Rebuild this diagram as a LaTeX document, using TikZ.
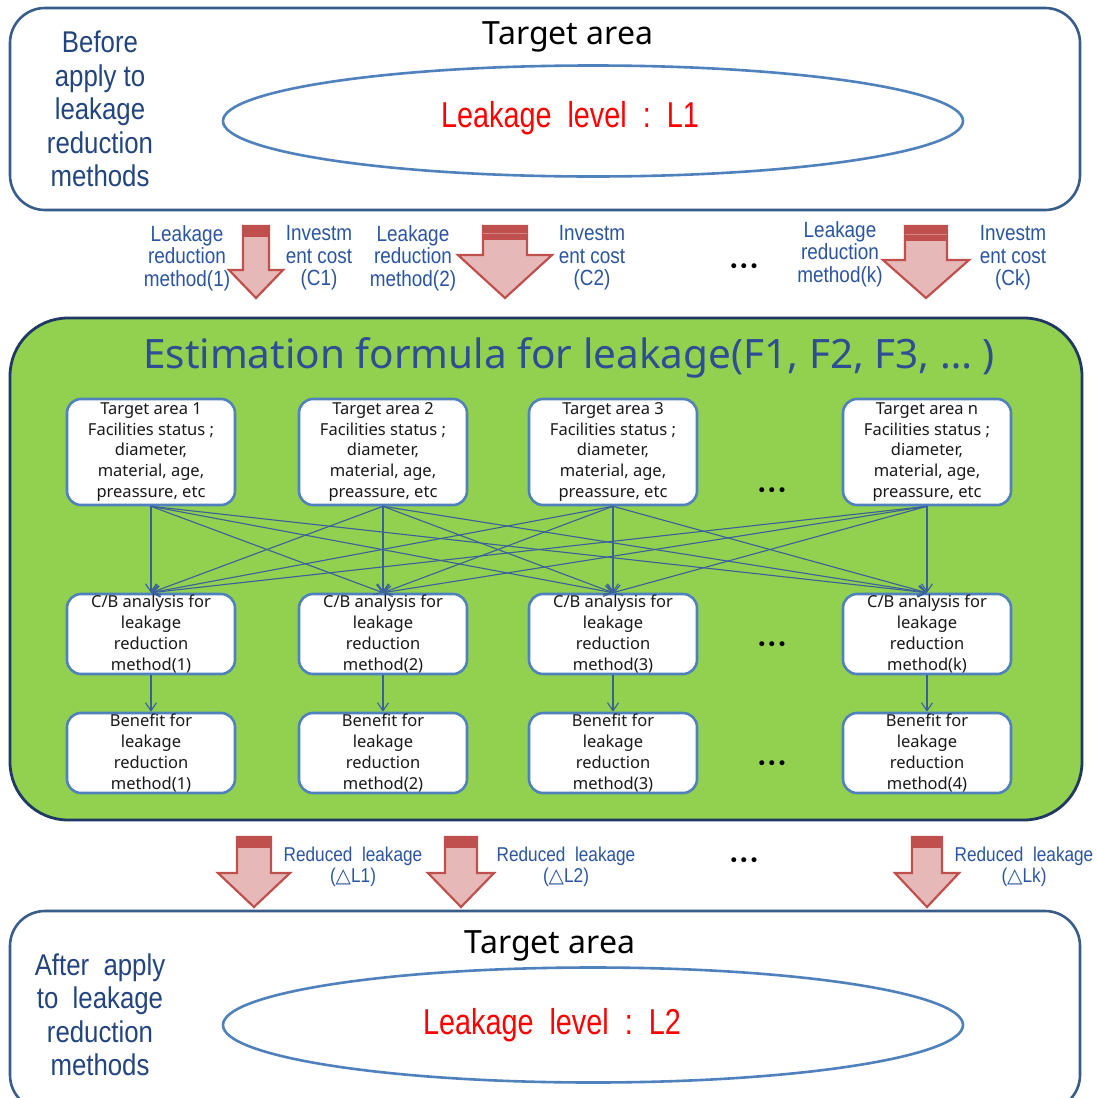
\documentclass[tikz,border=0pt]{standalone}
\usepackage{fontspec}
\usetikzlibrary{arrows.meta,shapes.geometric}
\setmainfont{Liberation Sans}
\newfontfamily\narrowfont[FakeStretch=0.86]{Liberation Sans}
\newfontfamily\levelfont[FakeStretch=0.8]{Liberation Sans}
\newfontfamily\boxfont{Noto Sans}
\newfontfamily\dejafont{DejaVu Sans}
\definecolor{outlineblue}{HTML}{385D8A}
\definecolor{ellblue}{HTML}{4F81BD}
\definecolor{leftblue}{HTML}{23457F}
\definecolor{labelblue}{HTML}{2B55A0}
\definecolor{titleblue}{HTML}{2D4E93}
\definecolor{greenfill}{HTML}{92D050}
\definecolor{greenline}{HTML}{1F3864}
\definecolor{arrowfill}{HTML}{E6B9B8}
\definecolor{arrowred}{HTML}{C0504D}
\definecolor{connblue}{HTML}{3A5F9A}
\definecolor{boxline}{HTML}{4F81BD}
\newcommand\fatarrow[7]{%
  \path[fill=arrowfill,draw=arrowred,line width=2.2pt,line join=miter]
    ({#1-#2},#4) -- ({#1+#2},#4) -- ({#1+#2},#6) -- ({#1+#3},#6) -- (#1,#7)
    -- ({#1-#3},#6) -- ({#1-#2},#6) -- cycle;
  \fill[arrowred] ({#1-#2},#4) rectangle ({#1+#2},#5);
}
\tikzset{
  bigbox/.style={draw=outlineblue,line width=2.6pt,fill=white,rounded corners=35pt,inner sep=0pt},
  ellbox/.style={ellipse,draw=ellblue,line width=2.6pt,inner sep=0pt},
  smallbox/.style={draw=boxline,line width=2.6pt,fill=white,rounded corners=14pt,
     minimum width=168pt,inner sep=0pt,align=center,text=black!90,
     font=\boxfont\fontsize{16.5}{20.8}\selectfont},
  lefttext/.style={align=center,text=leftblue,font=\narrowfont\fontsize{30}{33.5}\selectfont},
  areatitle/.style={font=\boxfont\fontsize{32}{36}\selectfont},
  leveltext/.style={text=red,font=\levelfont\fontsize{36}{40}\selectfont},
  lbl/.style={align=center,text=labelblue,font=\narrowfont\fontsize{22}{22.5}\selectfont},
  rlbl/.style={align=center,text=labelblue,font=\narrowfont\fontsize{20}{21}\selectfont},
  dots/.style={font=\dejafont\fontsize{17}{18}\selectfont},
  conn/.style={draw=connblue,line width=1.1pt,-{Straight Barb[length=8pt,width=11pt]}}
}
\begin{document}
\begin{tikzpicture}[x=1pt,y=-1pt]
\useasboundingbox (0,0) rectangle (1097,1098);
\clip (0,0) rectangle (1097,1098);
\fill[white] (0,0) rectangle (1097,1098);

% top box
\node[bigbox,minimum width=1070pt,minimum height=202pt] (topbox) at (545,109) {};
\node[lefttext] (before) at (100,109) {Before\\apply to\\leakage\\reduction\\methods};
\node[areatitle] (toptitle) at (568,37) {Target area};
\node[ellbox,minimum width=740pt,minimum height=111pt] (ell1) at (593,121) {};
\node[leveltext] (lev1) at (570,118) {Leakage\ \ level\ \ :\ \ L1};

% input arrows
\fatarrow{256}{13}{27}{226}{237}{270}{298}
\fatarrow{505}{22}{47}{226}{240}{255}{298}
\draw[arrowfill!50!arrowred,line width=1pt] (483,233) -- (527,233);
\fatarrow{926}{21}{43}{226}{241}{260}{298}
\draw[arrowfill!50!arrowred,line width=1pt] (905,234) -- (947,234);

\node[lbl] (m1) at (187,258) {Leakage\\reduction\\method(1)};
\node[lbl] (c1) at (319,258) {Investm\\ent cost\\(C1)};
\node[lbl] (m2) at (413,258) {Leakage\\reduction\\method(2)};
\node[lbl] (c2) at (592,258) {Investm\\ent cost\\(C2)};
\node[dots] (dt1) at (744,268) {•••};
\node[lbl] (mk) at (840,254) {Leakage\\reduction\\method(k)};
\node[lbl] (ck) at (1013,258) {Investm\\ent cost\\(Ck)};

% green box
\node[draw=greenline,fill=greenfill,line width=2.8pt,rounded corners=58pt,
      minimum width=1072pt,minimum height=502pt,inner sep=0pt] (green) at (546,569) {};
\node[text=titleblue,font=\boxfont\fontsize{40.5}{48}\selectfont] (gtitle) at (569,358)
  {Estimation formula for leakage(F1, F2, F3, … )};

\foreach \x/\n/\t in {151/1/1,383/2/2,613/3/3,927/4/n}{
  \node[smallbox,minimum height=106pt] (a\n) at (\x,452)
    {Target area \t\\Facilities status ;\\diameter,\\material, age,\\preassure, etc};
}
\foreach \x/\n/\t in {151/1/1,383/2/2,613/3/3,927/4/k}{
  \node[smallbox,minimum height=80pt] (c\n) at (\x,634)
    {C/B analysis for\\leakage\\reduction\\method(\t)};
}
\foreach \x/\n/\t in {151/1/1,383/2/2,613/3/3,927/4/4}{
  \node[smallbox,minimum height=80pt] (b\n) at (\x,753)
    {Benefit for\\leakage\\reduction\\method(\t)};
}
\node[dots] (dt2) at (772,492) {•••};
\node[dots] (dt3) at (772,646) {•••};
\node[dots] (dt4) at (772,765) {•••};

\foreach \i in {1,...,4}{
  \foreach \j in {1,...,4}{
    \draw[conn] (a\i.south) -- (c\j.north);
  }
  \draw[conn] (c\i.south) -- (b\i.north);
}

% output arrows
\fatarrow{254}{17}{36}{837}{848}{873}{907}
\fatarrow{461}{16}{33}{837}{848}{873}{907}
\fatarrow{927}{15}{32}{837}{848}{873}{907}
\node[rlbl] (r1) at (353,867) {Reduced\ \ leakage\\({\dejafont △}L1)};
\node[rlbl] (r2) at (566,867) {Reduced\ \ leakage\\({\dejafont △}L2)};
\node[dots] (dt5) at (744,862) {•••};
\node[rlbl] (rk) at (1024,867) {Reduced\ \ leakage\\({\dejafont △}Lk)};

% bottom box
\node[bigbox,minimum width=1070pt,minimum height=199pt] (botbox) at (545,1010.5) {};
\node[lefttext] (after) at (100,1015) {After\ \ apply\\to\ \ leakage\\reduction\\methods};
\node[areatitle] (bottitle) at (550,946) {Target area};
\node[ellbox,minimum width=740pt,minimum height=115pt] (ell2) at (593,1025) {};
\node[leveltext] (lev2) at (552,1025) {Leakage\ \ level\ \ :\ \ L2};
\end{tikzpicture}
\end{document}
